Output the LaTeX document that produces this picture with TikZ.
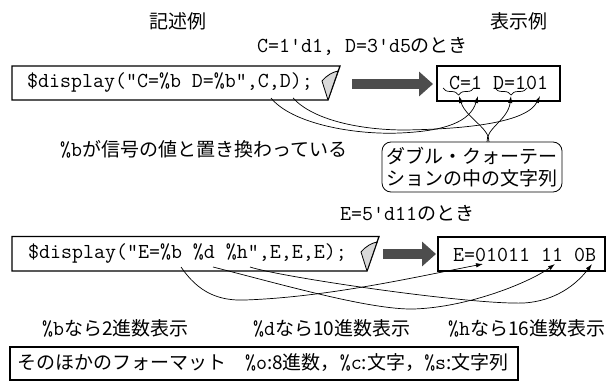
\documentclass[tikz,border=0pt]{standalone}
\usepackage{fontspec}
\setmainfont{Noto Sans CJK JP}
\usetikzlibrary{arrows.meta,decorations.pathreplacing}
\newcommand\jpf{\fontsize{19}{22}\selectfont}
\newcommand\mnf{\ttfamily\fontsize{21.33}{24}\selectfont}
\definecolor{arrowgray}{HTML}{4D4D4D}
\definecolor{curlgray}{HTML}{D9D9D9}
\begin{document}
\begin{tikzpicture}[x=1pt,y=-1pt,
  jp/.style={font=\jpf, inner sep=0pt},
  txt/.style={inner sep=0pt, anchor=base west},
  codebox/.style={draw, line width=1.3pt, line join=miter},
  resbox/.style={draw, line width=1.8pt, inner sep=0pt},
  curl/.style={fill=curlgray, draw, line width=0.8pt, line join=round},
  bigarrow/.style={draw=arrowgray, line width=10pt, -{Triangle[length=14pt,width=24pt]}},
  link/.style={line width=0.7pt, -{Latex[length=7pt,width=4.5pt]}},
  bracestyle/.style={line width=0.7pt, decorate, decoration={brace, mirror, amplitude=7pt}},
]
\useasboundingbox (0,0) rectangle (612,382);

% headings
\node[jp] (t1) at (178,21) {記述例};
\node[jp] (t2) at (519,21) {表示例};

% ---------- part 1 ----------
\node[txt] (cond1) at (257,53) {{\mnf C=1'd1, D=3'd5}{\jpf のとき}};
\draw[codebox] (12,66) -- (340,66) -- (328,100) -- (12,100) -- cycle;
\draw[curl] (322,81) .. controls (327,75) and (333,72) .. (338,71) -- (328,100) -- cycle;
\node[txt, font=\mnf] (code1) at (27,88) {\$display("C=\%b D=\%b",C,D);};

\coordinate (a1s) at (352,84);
\coordinate (a1e) at (433,84);
\draw[bigarrow] (a1s) -- (a1e);

\node[resbox, minimum width=123pt, minimum height=35pt] (res1) at (498.5,83.2) {};
\node[txt, font=\mnf] (res1t) at (449,90) {C=1 D=101};

\draw[bracestyle] (443,88) -- (474,88);
\draw[bracestyle] (495,88) -- (527,88);
\coordinate (b1) at (459,96);
\coordinate (b2) at (511,96);

\node[draw, rounded corners=9pt, line width=0.8pt, minimum width=180pt, minimum height=50pt,
      font=\jpf, align=left, inner sep=2pt] (callout) at (472,167)
      {ダブル・クォーテー\\ションの中の文字列};
\coordinate (cl1) at (489,142);
\coordinate (cl2) at (487,142);
\draw[link] (cl1) .. controls (490,128) and (466,118) .. (b1);
\draw[link] (cl2) .. controls (486,128) and (508,120) .. (b2);

\coordinate (cC) at (271,98);
\coordinate (cD) at (293,98);
\coordinate (tC) at (478,96);
\coordinate (tD) at (540,96);
\draw[link] (cC) .. controls (292,124) and (355,135) .. (400,133) .. controls (445,131) and (470,122) .. (tC);
\draw[link] (cD) .. controls (313,120) and (360,130) .. (405,130) .. controls (470,129) and (527,122) .. (tD);

\node[txt] (note1) at (60,156.5) {{\mnf\%b}{\jpf が信号の値と置き換わっている}};

% ---------- part 2 ----------
\node[txt] (cond2) at (340,220) {{\mnf E=5'd11}{\jpf のとき}};
\draw[codebox] (12,236.5) -- (379,236.5) -- (367,271) -- (12,271) -- cycle;
\draw[curl] (361,252) .. controls (366,246) and (372,243) .. (377,242) -- (367,271) -- cycle;
\node[txt, font=\mnf] (code2) at (28,258) {\$display("E=\%b \%d \%h",E,E,E);};

\coordinate (a2s) at (383,254);
\coordinate (a2e) at (436,254);
\draw[bigarrow] (a2s) -- (a2e);

\node[resbox, minimum width=167pt, minimum height=34.5pt] (res2) at (521.5,254) {};
\node[txt, font=\mnf] (res2t) at (453,261) {E=01011 11 0B};

\coordinate (pb) at (181,267);
\coordinate (pd) at (213,267);
\coordinate (ph) at (250,267);
\coordinate (e1) at (483,264);
\coordinate (e2) at (555,264);
\coordinate (e3) at (592,264);
\draw[link] (pb) .. controls (198,292) and (218,301) .. (245,300) .. controls (330,297) and (420,276) .. (e1);
\draw[link] (pd) .. controls (280,284) and (370,310) .. (414,309) .. controls (470,307) and (530,282) .. (e2);
\draw[link] (ph) .. controls (280,277) and (470,305) .. (524,303) .. controls (555,301) and (576,285) .. (e3);

% ---------- labels ----------
\node[txt] (l1) at (42,335) {{\mnf\%b}{\jpf なら2進数表示}};
\node[txt] (l2) at (253,335) {{\mnf\%d}{\jpf なら10進数表示}};
\node[txt] (l3) at (448,335) {{\mnf\%h}{\jpf なら16進数表示}};

\node[draw, line width=1.6pt, minimum width=508pt, minimum height=33pt, inner sep=0pt] (other) at (264,363.5) {};
\node[txt] (othert) at (17,369) {{\jpf そのほかのフォーマット}\hspace{19pt}{\mnf\%o}{\jpf :8進数，}{\mnf\%c}{\jpf :文字，}{\mnf\%s}{\jpf :文字列}};
\end{tikzpicture}
\end{document}
